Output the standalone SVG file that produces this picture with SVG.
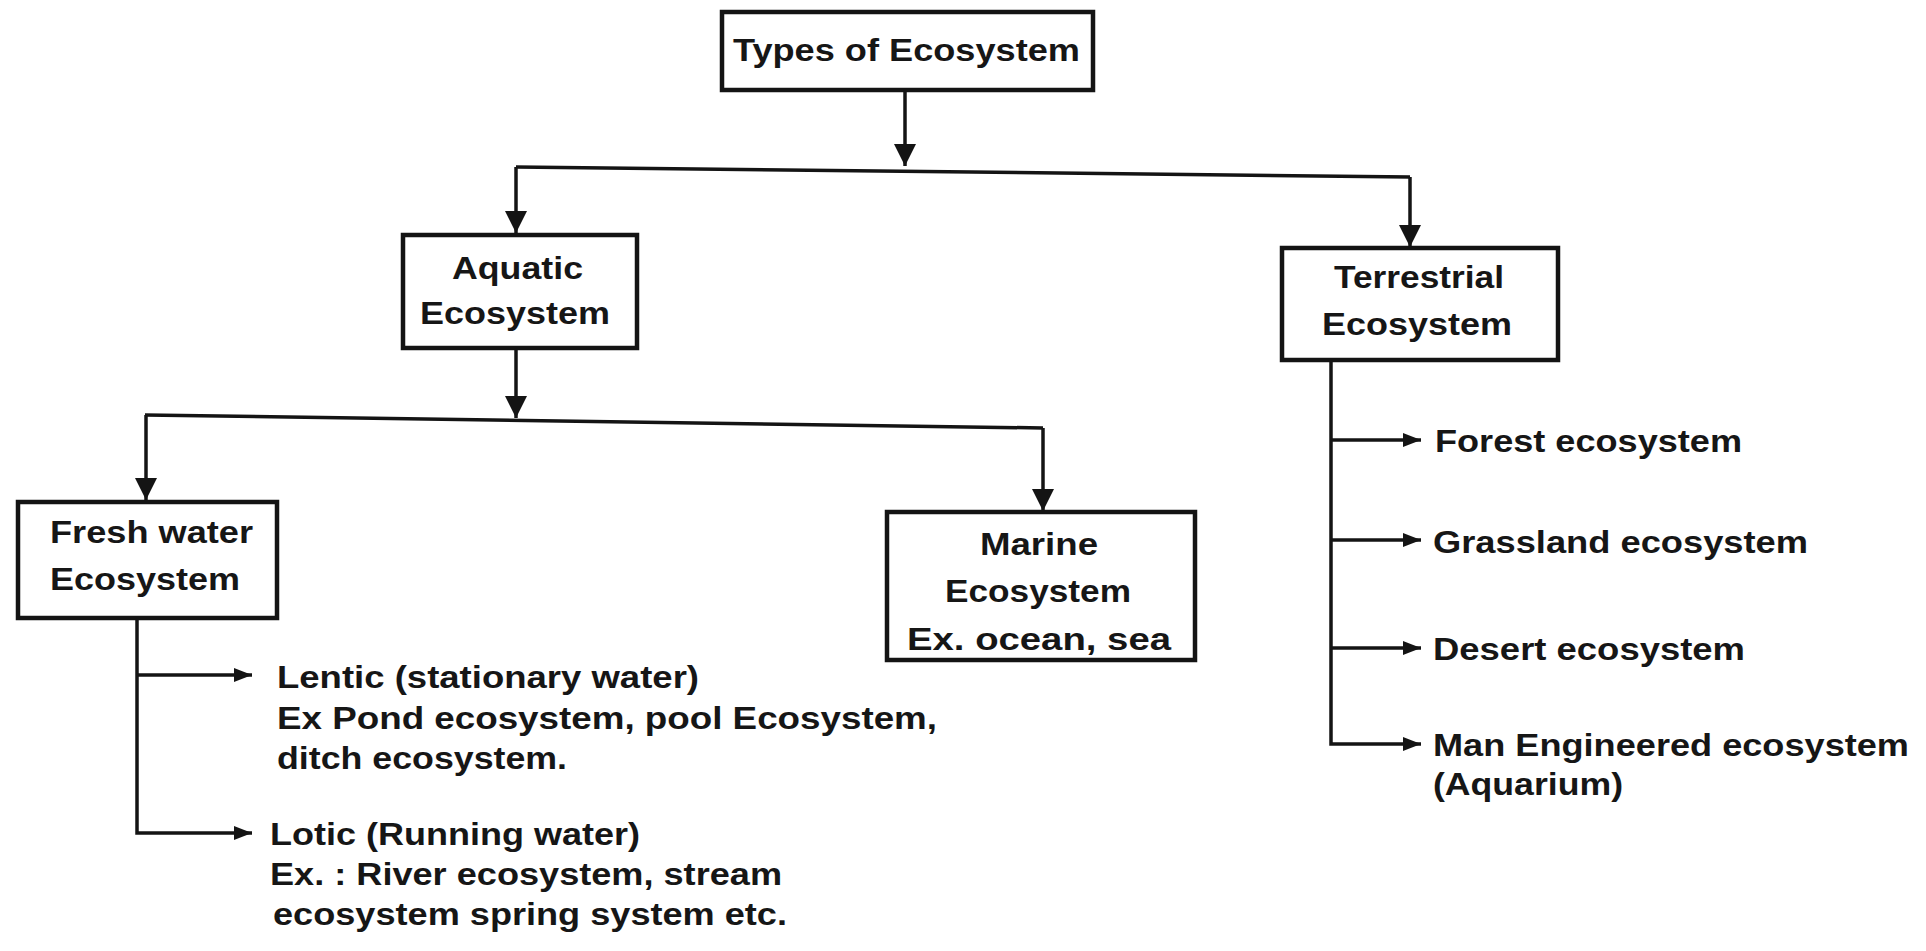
<svg xmlns="http://www.w3.org/2000/svg" width="1926" height="951" viewBox="0 0 1926 951">
<style>
.box{fill:#ffffff;stroke:#141414;stroke-width:4.5}
.ln{fill:none;stroke:#141414;stroke-width:3.5}
.t{font-family:"Liberation Sans",Arial,sans-serif;font-weight:bold;font-size:32px;fill:#161616}
</style>
<defs>
<marker id="ad" markerUnits="userSpaceOnUse" markerWidth="24" markerHeight="24" refX="22" refY="11" orient="auto">
<path d="M0,0 L22,11 L0,22 Z" fill="#141414"/>
</marker>
<marker id="as" markerUnits="userSpaceOnUse" markerWidth="20" markerHeight="16" refX="18" refY="7" orient="auto">
<path d="M0,0 L18,7 L0,14 Z" fill="#141414"/>
</marker>
</defs>
<rect x="0" y="0" width="1926" height="951" fill="#ffffff"/>

<g id="connectors">
<path class="ln" d="M905,89 L905,166" marker-end="url(#ad)"/>
<path class="ln" d="M516,167 L1410,177"/>
<path class="ln" d="M516,167 L516,233" marker-end="url(#ad)"/>
<path class="ln" d="M1410,177 L1410,247" marker-end="url(#ad)"/>
<path class="ln" d="M516,348 L516,418" marker-end="url(#ad)"/>
<path class="ln" d="M145,415 L1043,428"/>
<path class="ln" d="M146,415 L146,500" marker-end="url(#ad)"/>
<path class="ln" d="M1043,428 L1043,511" marker-end="url(#ad)"/>
<path class="ln" d="M137,618 L137,833 L252,833" marker-end="url(#as)"/>
<path class="ln" d="M137,675 L252,675" marker-end="url(#as)"/>
<path class="ln" d="M1331,360 L1331,744 L1421,744" marker-end="url(#as)"/>
<path class="ln" d="M1331,440 L1421,440" marker-end="url(#as)"/>
<path class="ln" d="M1331,540 L1421,540" marker-end="url(#as)"/>
<path class="ln" d="M1331,648 L1421,648" marker-end="url(#as)"/>
</g>

<g id="types">
<rect class="box" x="722" y="12" width="371" height="78"/>
<text class="t" x="733" y="61" textLength="347" lengthAdjust="spacingAndGlyphs">Types of Ecosystem</text>
</g>

<g id="aquatic">
<rect class="box" x="403" y="235" width="234" height="113"/>
<text class="t" x="452" y="279" textLength="131" lengthAdjust="spacingAndGlyphs">Aquatic</text>
<text class="t" x="420" y="324" textLength="190" lengthAdjust="spacingAndGlyphs">Ecosystem</text>
</g>

<g id="terrestrial">
<rect class="box" x="1282" y="248" width="276" height="112"/>
<text class="t" x="1334" y="288" textLength="170" lengthAdjust="spacingAndGlyphs">Terrestrial</text>
<text class="t" x="1322" y="335" textLength="190" lengthAdjust="spacingAndGlyphs">Ecosystem</text>
</g>

<g id="freshwater">
<rect class="box" x="18" y="502" width="259" height="116"/>
<text class="t" x="50" y="543" textLength="203" lengthAdjust="spacingAndGlyphs">Fresh water</text>
<text class="t" x="50" y="590" textLength="190" lengthAdjust="spacingAndGlyphs">Ecosystem</text>
</g>

<g id="marine">
<rect class="box" x="887" y="512" width="308" height="148"/>
<text class="t" x="980" y="555" textLength="118" lengthAdjust="spacingAndGlyphs">Marine</text>
<text class="t" x="945" y="602" textLength="186" lengthAdjust="spacingAndGlyphs">Ecosystem</text>
<text class="t" x="907" y="650" textLength="264" lengthAdjust="spacingAndGlyphs">Ex. ocean, sea</text>
</g>

<g id="lentic">
<text class="t" x="277" y="688" textLength="422" lengthAdjust="spacingAndGlyphs">Lentic (stationary water)</text>
<text class="t" x="277" y="729" textLength="660" lengthAdjust="spacingAndGlyphs">Ex Pond ecosystem, pool Ecosystem,</text>
<text class="t" x="277" y="769" textLength="290" lengthAdjust="spacingAndGlyphs">ditch ecosystem.</text>
</g>

<g id="lotic">
<text class="t" x="270" y="845" textLength="370" lengthAdjust="spacingAndGlyphs">Lotic (Running water)</text>
<text class="t" x="270" y="885" textLength="512" lengthAdjust="spacingAndGlyphs">Ex. : River ecosystem, stream</text>
<text class="t" x="273" y="925" textLength="514" lengthAdjust="spacingAndGlyphs">ecosystem spring system etc.</text>
</g>

<g id="forest">
<text class="t" x="1435" y="452" textLength="307" lengthAdjust="spacingAndGlyphs">Forest ecosystem</text>
</g>
<g id="grassland">
<text class="t" x="1433" y="553" textLength="375" lengthAdjust="spacingAndGlyphs">Grassland ecosystem</text>
</g>
<g id="desert">
<text class="t" x="1433" y="660" textLength="312" lengthAdjust="spacingAndGlyphs">Desert ecosystem</text>
</g>
<g id="manengineered">
<text class="t" x="1433" y="756" textLength="476" lengthAdjust="spacingAndGlyphs">Man Engineered ecosystem</text>
<text class="t" x="1433" y="795" textLength="190" lengthAdjust="spacingAndGlyphs">(Aquarium)</text>
</g>
</svg>
